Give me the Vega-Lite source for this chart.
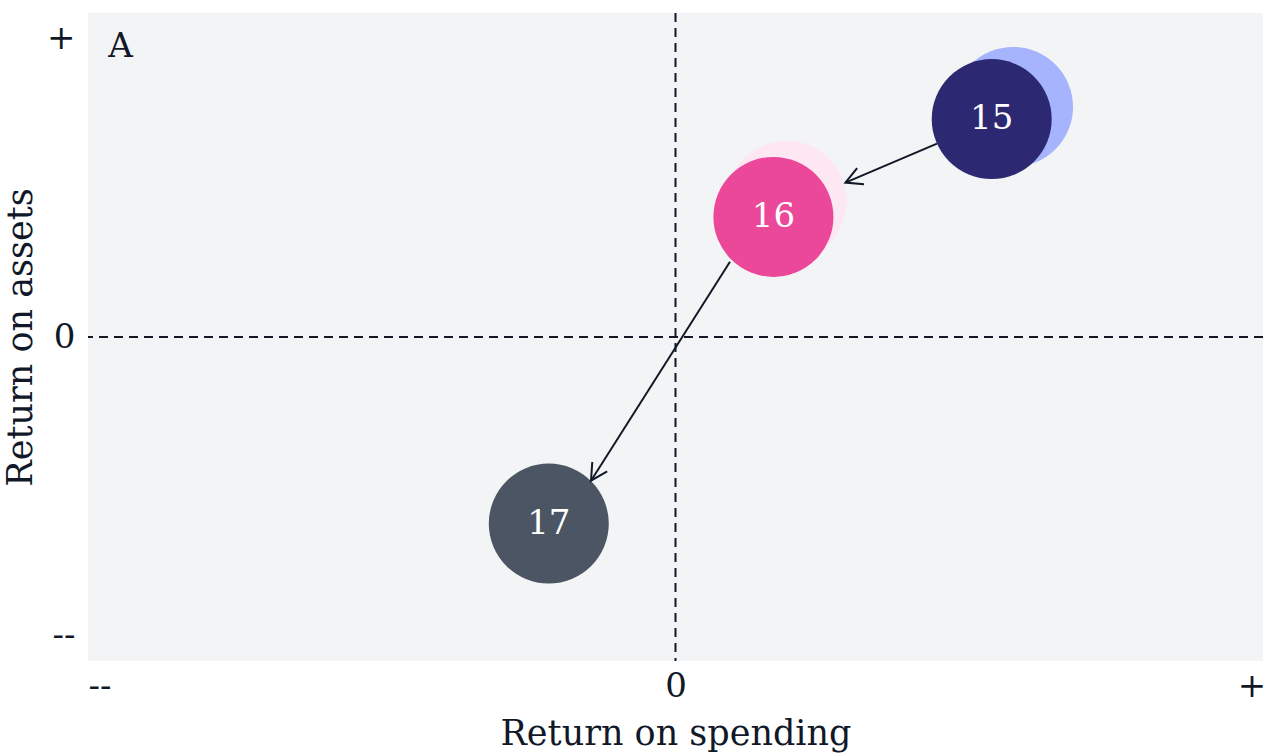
{
  "$schema": "https://vega.github.io/schema/vega-lite/v6.json",
  "width": 1175,
  "height": 648,
  "autosize": {"type": "none"},
  "padding": {"left": 88, "top": 13, "right": 10, "bottom": 93},
  "background": "#ffffff",
  "config": {
    "view": {"fill": "#f3f4f6", "stroke": null},
    "font": "DejaVu Serif",
    "axis": {
      "grid": false, "ticks": false, "domain": false,
      "labelFontSize": 34, "titleFontSize": 35,
      "labelColor": "#111827", "titleColor": "#111827",
      "labelFont": "DejaVu Serif", "titleFont": "DejaVu Serif",
      "titleFontWeight": "normal", "labelFlush": false
    }
  },
  "datasets": {
    "points": [
      {"year": "15", "x": 0.549, "y": 0.731},
      {"year": "16", "x": 0.170, "y": 0.403},
      {"year": "17", "x": -0.220, "y": -0.626}
    ],
    "shadows": [
      {"year": "15", "x": 0.586, "y": 0.772},
      {"year": "16", "x": 0.193, "y": 0.457}
    ],
    "arrows": [
      {"from": "15", "to": "16", "x": 0.454, "y": 0.649, "x2": 0.295, "y2": 0.518, "angle": 157},
      {"from": "16", "to": "17", "x": 0.0946, "y": 0.2526, "x2": -0.1467, "y2": -0.482, "angle": 122}
    ],
    "zero": [{"v": 0}],
    "panel": [{"label": "A", "x": -0.985, "y": 0.939}]
  },
  "encoding": {
    "x": {
      "field": "x", "type": "quantitative",
      "scale": {"domain": [-1.02, 1.02], "nice": false, "zero": false},
      "axis": {
        "values": [-1, 0, 1],
        "labelExpr": "datum.value < 0 ? '--' : (datum.value > 0 ? '+' : '0')",
        "title": "Return on spending",
        "labelPadding": 8, "titlePadding": 13
      }
    },
    "y": {
      "field": "y", "type": "quantitative",
      "scale": {"domain": [-1.087, 1.087], "nice": false, "zero": false},
      "axis": {
        "values": [-1, 0, 1],
        "labelExpr": "datum.value < 0 ? '--' : (datum.value > 0 ? '+' : '0')",
        "title": "Return on assets",
        "labelPadding": 13, "titlePadding": 8
      }
    }
  },
  "layer": [
    {
      "data": {"name": "zero"},
      "mark": {"type": "rule", "stroke": "#111827", "strokeWidth": 2, "strokeDash": [9, 6]},
      "encoding": {"x": {"field": "v", "type": "quantitative"}, "y": null}
    },
    {
      "data": {"name": "zero"},
      "mark": {"type": "rule", "stroke": "#111827", "strokeWidth": 2, "strokeDash": [9, 6]},
      "encoding": {"y": {"field": "v", "type": "quantitative"}, "x": null}
    },
    {
      "data": {"name": "shadows"},
      "mark": {"type": "circle", "opacity": 1, "size": 14400},
      "encoding": {
        "color": {
          "field": "year", "type": "nominal", "legend": null,
          "scale": {"domain": ["15", "16"], "range": ["#a5b4fc", "#fce7f3"]}
        }
      }
    },
    {
      "data": {"name": "points"},
      "mark": {"type": "circle", "opacity": 1, "size": 14400},
      "encoding": {
        "fill": {
          "field": "year", "type": "nominal", "legend": null,
          "scale": {"domain": ["15", "16", "17"], "range": ["#2d2872", "#ec4899", "#4b5563"]}
        }
      }
    },
    {
      "data": {"name": "points"},
      "mark": {"type": "text", "color": "#ffffff", "fontSize": 34, "align": "center", "baseline": "middle", "font": "DejaVu Serif"},
      "encoding": {"text": {"field": "year"}}
    },
    {
      "data": {"name": "arrows"},
      "mark": {"type": "rule", "stroke": "#111827", "strokeWidth": 2},
      "encoding": {
        "x2": {"field": "x2"},
        "y2": {"field": "y2"}
      }
    },
    {
      "data": {"name": "arrows"},
      "mark": {"type": "point", "shape": "M-0.88,-0.47L0,0L-0.88,0.47", "filled": false, "stroke": "#111827", "strokeWidth": 2, "size": 1400, "opacity": 1},
      "encoding": {
        "x": {"field": "x2", "type": "quantitative"},
        "y": {"field": "y2", "type": "quantitative"},
        "angle": {"field": "angle", "type": "quantitative", "scale": null}
      }
    },
    {
      "data": {"name": "panel"},
      "mark": {"type": "text", "color": "#111827", "fontSize": 34, "align": "left", "baseline": "alphabetic", "font": "DejaVu Serif"},
      "encoding": {"text": {"field": "label"}}
    }
  ]
}
